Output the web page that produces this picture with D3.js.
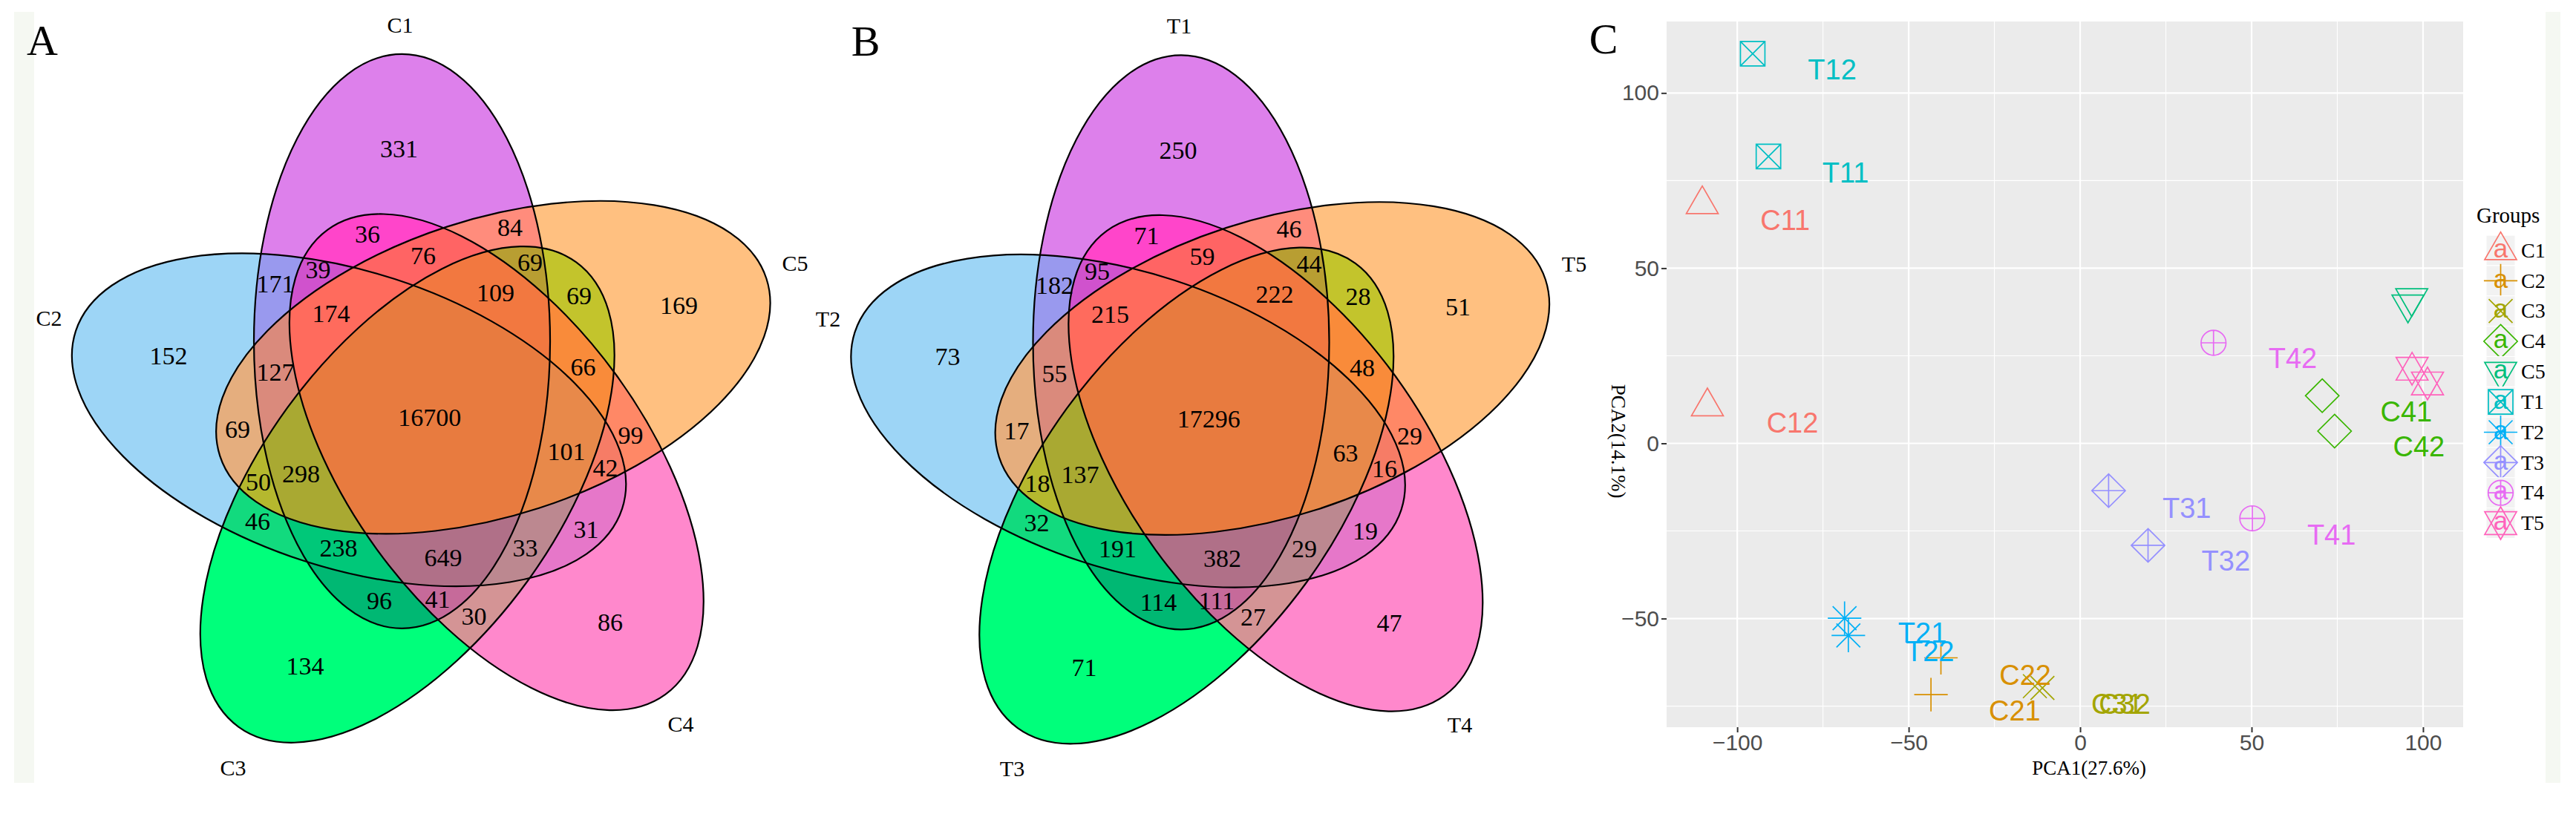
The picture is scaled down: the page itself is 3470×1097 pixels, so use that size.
<!DOCTYPE html>
<html><head><meta charset="utf-8">
<script src="https://cdn.jsdelivr.net/npm/d3@7"></script>
<style>body{margin:0;background:#fff}svg{display:block}</style>
</head><body>
<svg id="chart" width="3470" height="1097"></svg>
<script>
// ================= DATA =================
// Venn diagrams (regions keyed by set membership: 1..5)
const vennSetsA = ["C1","C2","C3","C4","C5"];
const vennSetsB = ["T1","T2","T3","T4","T5"];
const regionKeys = ["1","2","3","4","5","12","13","14","15","23","24","25","34","35","45",
  "123","124","125","134","135","145","234","235","245","345","1234","1235","1245","1345","2345","12345"];
const countsA = [331,152,134,86,169,171,96,36,84,46,31,69,30,69,99,
  238,39,127,41,69,76,33,50,42,66,649,298,174,109,101,16700];
const countsB = [250,73,71,47,51,182,114,71,46,32,19,17,27,28,29,
  191,95,55,111,44,59,29,18,16,48,382,137,215,222,63,17296];

// PCA
const groups = ["C1","C2","C3","C4","C5","T1","T2","T3","T4","T5"];
const sampleNames  = ["C11","C12","C21","C22","C31","C32","C41","C42","C51","C52","T11","T12","T21","T22","T31","T32","T41","T42","T51","T52"];
const sampleGroups = ["C1","C1","C2","C2","C3","C3","C4","C4","C5","C5","T1","T1","T2","T2","T3","T3","T4","T4","T5","T5"];
const pca1 = [-110.2,-108.7,-43.5,-40.6,-13.2,-11.0,70.6,74.2,96.7,95.6,-90.9,-95.5,-68.7,-67.6,8.3,19.8,50.2,38.9,96.8,101.3];
const pca2 = [68.2,10.5,-71.7,-61.2,-69.3,-69.8,13.6,3.5,41.5,39.7,81.9,111.2,-49.9,-54.8,-13.5,-29.1,-21.4,28.7,21.3,17.1];
const labelX = [-86.0,-83.9,-19.1,-16.0,10.8,13.0,95.1,98.8,120.7,119.6,-68.4,-72.3,-46.0,-43.8,31.1,42.5,73.3,62.0,120.8,125.3];
const labelY = [63.8,6.0,-76.2,-66.1,-74.3,-74.3,9.2,-0.9,36.9,35.1,77.4,106.8,-54.0,-59.3,-18.4,-33.5,-26.1,24.3,16.7,12.5];
const xTicks = [-100,-50,0,50,100];
const yTicks = [-50,0,50,100];
const xMinor = [-75,-25,25,75];
const yMinor = [-75,-25,25,75];
const xTitle = "PCA1(27.6%)";
const yTitle = "PCA2(14.1%)";
const legendTitle = "Groups";

// ================= LAYOUT / STYLE =================
const svg = d3.select("#chart");
const SERIF = "'Liberation Serif','Times New Roman',serif";
const SANS = "'Liberation Sans',Arial,sans-serif";

svg.append("rect").attr("width",3470).attr("height",1097).attr("fill","#fff");
svg.append("rect").attr("x",19).attr("y",16).attr("width",27).attr("height",1039).attr("fill","#f5f8f2");
svg.append("rect").attr("x",3429).attr("y",16).attr("width",20).attr("height",1039).attr("fill","#f5f8f2");

const regionColors = {
  "1":"#DD80EB","2":"#9DD5F6","3":"#00FF7B","4":"#FF88CC","5":"#FFC080",
  "12":"#9999EE","13":"#00B873","14":"#FF45CA","15":"#FF8C7C","23":"#12DA7E","24":"#E677C9","25":"#E5AE7E","34":"#D49495","35":"#C3C42C","45":"#FF8866",
  "123":"#00C879","124":"#D052CD","125":"#DA8A7C","134":"#C66A9A","135":"#B89E32","145":"#FF6464","234":"#BC8890","235":"#B5B82E","245":"#F67C66","345":"#F98B3A",
  "1234":"#B07088","1235":"#A9A932","1245":"#FF6B5D","1345":"#F27840","2345":"#E8894A","12345":"#E87B3F"
};
// region label offsets from diagram centre (px)
const regionOffsets = {
  "1":[-41.2,-361.3],"2":[-351.7,-82.7],"3":[-167.7,336],"4":[243.3,276.5],"5":[335.8,-150],
  "12":[-207.7,-179],"13":[-67.7,248],"14":[-83.7,-246],"15":[108.3,-255],"23":[-231.7,141],
  "24":[210.8,152],"25":[-258.7,17],"34":[59.8,268.5],"35":[201.3,-163.5],"45":[270.8,24.5],
  "123":[-122.7,176.5],"124":[-150.1,-198],"125":[-207.7,-60],"134":[10.8,246],"135":[135.3,-208.4],
  "145":[-8.7,-217.5],"234":[128.8,176.5],"235":[-230.7,88],"245":[236.8,68.3],"345":[206.8,-67.7],
  "1234":[18.3,189.5],"1235":[-173.2,76.5],"1245":[-132.7,-139.5],"1345":[88.8,-167.2],"2345":[184.3,46.7],"12345":[0,1]
};
const catOffsets = [[-39.7,-528],[-512.7,-133.4],[-264.7,473],[338.3,414],[492.3,-207]];
const stepIndex = {1:0, 5:1, 4:2, 3:3, 2:4};
const ELL_A = 387, ELL_B = 199.5, ELL_D = 108.7, CENTER_ANGLE0 = 250;

const defs = svg.append("defs");

function drawVenn(O, names, counts, prefix, letter, letterPos) {
  const sx = d3.scaleLinear().domain([-600,600]).range([O[0]-600,O[0]+600]);
  const sy = d3.scaleLinear().domain([-600,600]).range([O[1]-600,O[1]+600]);
  const ells = [1,2,3,4,5].map(n => {
    const k = stepIndex[n];
    const a = (CENTER_ANGLE0 + 72*k) * Math.PI/180;
    return {n, cx: sx(ELL_D*Math.cos(a)), cy: sy(ELL_D*Math.sin(a)), rot: 72*k};
  });
  ells.forEach(e => {
    defs.append("clipPath").attr("id", prefix+"clip"+e.n).append("ellipse")
      .attr("cx",e.cx).attr("cy",e.cy).attr("rx",ELL_B).attr("ry",ELL_A)
      .attr("transform",`rotate(${e.rot},${e.cx},${e.cy})`);
  });
  const g = svg.append("g");
  const order = regionKeys.slice().sort((a,b)=>a.length-b.length);
  order.forEach(key => {
    let parent = g;
    key.split("").forEach(n => { parent = parent.append("g").attr("clip-path",`url(#${prefix}clip${n})`); });
    parent.append("rect").attr("x",O[0]-600).attr("y",O[1]-600).attr("width",1200).attr("height",1200)
      .attr("fill",regionColors[key]);
  });
  g.selectAll("ellipse.outline").data(ells).join("ellipse").attr("class","outline")
    .attr("cx",d=>d.cx).attr("cy",d=>d.cy).attr("rx",ELL_B).attr("ry",ELL_A)
    .attr("transform",d=>`rotate(${d.rot},${d.cx},${d.cy})`)
    .attr("fill","none").attr("stroke","#000").attr("stroke-width",2.2);
  const fs = 34;
  g.selectAll("text.cnt").data(regionKeys).join("text").attr("class","cnt")
    .attr("x",k=>sx(regionOffsets[k][0])).attr("y",k=>sy(regionOffsets[k][1]) + 0.338*fs)
    .attr("text-anchor","middle").attr("font-family",SERIF).attr("font-size",fs).attr("fill","#000")
    .text((k,i)=>counts[i]);
  const cfs = 30;
  g.selectAll("text.cat").data(names).join("text").attr("class","cat")
    .attr("x",(d,i)=>sx(catOffsets[i][0])).attr("y",(d,i)=>sy(catOffsets[i][1]) + 0.331*cfs)
    .attr("text-anchor","middle").attr("font-family",SERIF).attr("font-size",cfs).attr("fill","#000")
    .text(d=>d);
  svg.append("text").attr("x",letterPos[0]).attr("y",letterPos[1]+0.331*58).attr("text-anchor","middle")
    .attr("font-family",SERIF).attr("font-size",58).attr("fill","#000").text(letter);
}

drawVenn([578.7,562], vennSetsA, countsA, "a", "A", [57,55]);
drawVenn([1628.2,563.5], vennSetsB, countsB, "b", "B", [1166,56]);

// ================= PCA panel =================
const panel = {x0:2245, x1:3318, y0:29, y1:980};
const xScale = d3.scaleLinear().domain([-120.6,111.7]).range([panel.x0,panel.x1]);
const yScale = d3.scaleLinear().domain([-81.0,120.4]).range([panel.y1,panel.y0]);
const color = d3.scaleOrdinal().domain(groups)
  .range(["#F8766D","#D89000","#A3A500","#39B600","#00BF7D","#00BFC4","#00B0F6","#9590FF","#E76BF3","#FF62BC"]);
const shapeOf = d3.scaleOrdinal().domain(groups)
  .range(["tri","plus","cross","diamond","tridown","squarex","asterisk","diamondplus","circleplus","star"]);

function shapePath(t) {
  const plus = r => `M${-r},0H${r}M0,${-r}V${r}`;
  const cross = r => `M${-r},${-r}L${r},${r}M${-r},${r}L${r},${-r}`;
  const diamond = r => `M0,${-r}L${r},0L0,${r}L${-r},0Z`;
  switch(t) {
    case "tri": return "M0,-24.9L21.5,12.4L-21.5,12.4Z";
    case "tridown": return "M0,24.9L21.5,-12.4L-21.5,-12.4Z";
    case "plus": return plus(22.6);
    case "cross": return cross(16);
    case "diamond": return diamond(22.6);
    case "squarex": return "M-16.5,-16.5H16.5V16.5H-16.5Z" + cross(16.5);
    case "asterisk": return plus(22.6) + cross(16);
    case "diamondplus": return diamond(22.6) + plus(22.6);
    case "circleplus": return "M16.8,0A16.8,16.8 0 1,1 -16.8,0A16.8,16.8 0 1,1 16.8,0Z" + plus(16.8);
    case "star": return "M0,-22L21.5,15.3L-21.5,15.3ZM0,22L21.5,-15.3L-21.5,-15.3Z";
  }
}

svg.append("rect").attr("x",panel.x0).attr("y",panel.y0).attr("width",panel.x1-panel.x0).attr("height",panel.y1-panel.y0).attr("fill","#EBEBEB");
defs.append("clipPath").attr("id","pclip").append("rect").attr("x",panel.x0).attr("y",panel.y0)
  .attr("width",panel.x1-panel.x0).attr("height",panel.y1-panel.y0);
const grid = svg.append("g");
grid.selectAll("line.xm").data(xMinor).join("line").attr("x1",d=>xScale(d)).attr("x2",d=>xScale(d)).attr("y1",panel.y0).attr("y2",panel.y1).attr("stroke","#fff").attr("stroke-width",1.1);
grid.selectAll("line.ym").data(yMinor).join("line").attr("y1",d=>yScale(d)).attr("y2",d=>yScale(d)).attr("x1",panel.x0).attr("x2",panel.x1).attr("stroke","#fff").attr("stroke-width",1.1);
grid.selectAll("line.xM").data(xTicks).join("line").attr("x1",d=>xScale(d)).attr("x2",d=>xScale(d)).attr("y1",panel.y0).attr("y2",panel.y1).attr("stroke","#fff").attr("stroke-width",2.2);
grid.selectAll("line.yM").data(yTicks).join("line").attr("y1",d=>yScale(d)).attr("y2",d=>yScale(d)).attr("x1",panel.x0).attr("x2",panel.x1).attr("stroke","#fff").attr("stroke-width",2.2);

const samples = sampleNames.map((n,i)=>({name:n, group:sampleGroups[i], x:pca1[i], y:pca2[i], lx:labelX[i], ly:labelY[i]}));
const plotG = svg.append("g").attr("clip-path","url(#pclip)");
plotG.selectAll("path.pt").data(samples).join("path").attr("class","pt")
  .attr("transform",d=>`translate(${xScale(d.x)},${yScale(d.y)})`)
  .attr("d",d=>shapePath(shapeOf(d.group)))
  .attr("fill","none").attr("stroke",d=>color(d.group)).attr("stroke-width",1.7);
const LFS = 38;
plotG.selectAll("text.lab").data(samples).join("text").attr("class","lab")
  .attr("x",d=>xScale(d.lx)).attr("y",d=>yScale(d.ly)+0.358*LFS)
  .attr("text-anchor","middle").attr("font-family",SANS).attr("font-size",LFS)
  .attr("fill",d=>color(d.group)).text(d=>d.name);

const gx = svg.append("g").attr("transform",`translate(0,${panel.y1})`)
  .call(d3.axisBottom(xScale).tickValues(xTicks).tickSize(7).tickPadding(3));
const gy = svg.append("g").attr("transform",`translate(${panel.x0},0)`)
  .call(d3.axisLeft(yScale).tickValues(yTicks).tickSize(7).tickPadding(3));
[gx,gy].forEach(a=>{
  a.select(".domain").remove();
  a.selectAll(".tick line").attr("stroke","#333").attr("stroke-width",2);
  a.selectAll(".tick text").attr("font-family",SANS).attr("font-size",30).attr("fill","#4D4D4D");
});

svg.append("text").attr("x",2814).attr("y",1044).attr("text-anchor","middle")
  .attr("font-family",SERIF).attr("font-size",27).attr("fill","#000").text(xTitle);
svg.append("text").attr("transform","translate(2171,594.5) rotate(90)").attr("text-anchor","middle")
  .attr("font-family",SERIF).attr("font-size",27).attr("fill","#000").text(yTitle);
svg.append("text").attr("x",2160).attr("y",53+0.331*58).attr("text-anchor","middle")
  .attr("font-family",SERIF).attr("font-size",58).attr("fill","#000").text("C");

// legend
const ly = d3.scalePoint().domain(groups).range([337.5,705]);
const lg = svg.append("g");
lg.append("text").attr("x",3336).attr("y",300).attr("font-family",SERIF).attr("font-size",29).attr("fill","#000").text(legendTitle);
const keys = lg.selectAll("g.key").data(groups).join("g").attr("class","key")
  .attr("transform",d=>`translate(3368.5,${ly(d)})`);
keys.append("rect").attr("x",-19.5).attr("y",-20.4).attr("width",39).attr("height",40.8).attr("fill","#F2F2F2").attr("stroke","#fff").attr("stroke-width",1);
keys.append("path").attr("d",d=>shapePath(shapeOf(d))).attr("fill","none").attr("stroke",d=>color(d)).attr("stroke-width",1.7);
keys.append("text").attr("x",0).attr("y",9.2).attr("text-anchor","middle").attr("font-family",SANS).attr("font-size",35)
  .attr("fill",d=>color(d)).text("a");
keys.append("text").attr("x",27.5).attr("y",0.331*28).attr("font-family",SERIF).attr("font-size",28).attr("fill","#000").text(d=>d);
</script>
</body></html>
